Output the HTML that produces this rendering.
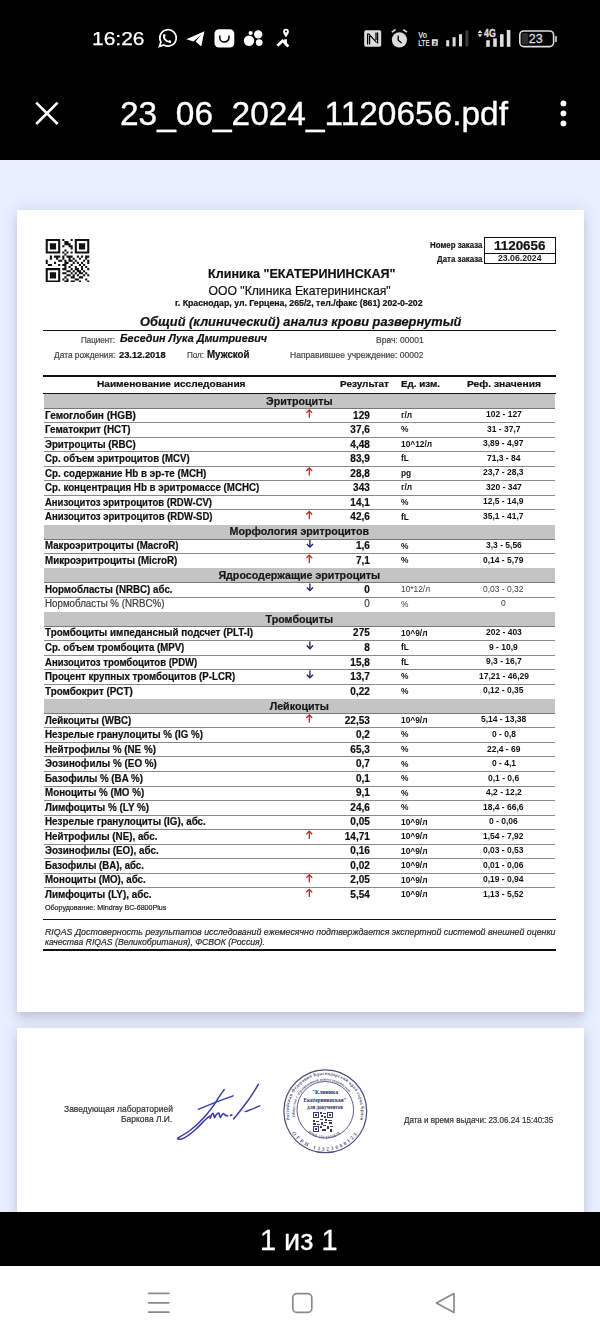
<!DOCTYPE html>
<html><head><meta charset="utf-8">
<style>
html,body{margin:0;padding:0}
body{width:600px;height:1339px;overflow:hidden;position:relative;background:#e8effe;font-family:"Liberation Sans",sans-serif}
.abs{position:absolute}
.t{position:absolute;white-space:pre;line-height:1;transform-origin:0 0;color:#111}
#doc{position:absolute;left:0;top:0;width:600px;height:1339px;will-change:transform}
#doc .t{-webkit-text-stroke:0.2px currentColor}
.topbar{position:absolute;left:0;top:0;width:600px;height:160px;background:#000}
.page{position:absolute;left:16.5px;width:567px;background:#fff;box-shadow:0 0 16px rgba(100,105,130,.17), 0 6px 8px -1px rgba(95,92,105,.22)}
.band{position:absolute;left:44px;width:511px;height:14.2px;background:#c4c4c4;border-bottom:0.9px solid #777}
.rl{position:absolute;left:44px;width:511px;height:1px;background:#8a8a8a}
.hl{position:absolute;left:43px;width:512.5px;height:1.6px;background:#111}
.ar{position:absolute}
.botbar{position:absolute;left:0;top:1212.4px;width:600px;height:54px;background:#000}
.nav{position:absolute;left:0;top:1266.4px;width:600px;height:73px;background:#fff}
</style></head><body>
<div class="topbar"></div>
<div class="page" style="top:210px;height:802px"></div>
<div class="page" style="top:1028px;height:200px"></div>

<!-- header lines -->
<div class="hl" style="top:329.8px"></div>
<div class="hl" style="top:375px"></div>
<div class="hl" style="top:392.6px;height:1.4px"></div>
<div class="hl" style="top:918.7px"></div>
<div class="hl" style="top:949px"></div>
<!-- order box -->
<div class="abs" style="left:483.5px;top:237.3px;width:70.5px;height:25px;border:1.2px solid #111"></div>
<div class="abs" style="left:483.5px;top:252.5px;width:72px;height:1.2px;background:#111"></div>

<!-- QR -->
<svg class="abs" style="left:45.2px;top:238.9px" width="45" height="43.6" viewBox="0 0 21 21">
<g fill="#111">
<path d="M0 0h7v7h-7z M1 1v5h5v-5z M2 2h3v3h-3z"/>
<path d="M14 0h7v7h-7z M15 1v5h5v-5z M16 2h3v3h-3z"/>
<path d="M0 14h7v7h-7z M1 15v5h5v-5z M2 16h3v3h-3z"/>
<path d="M8 0h1v1h-1z M12 0h1v1h-1z M9 1h1v1h-1z M10 1h1v1h-1z M9 2h1v1h-1z M10 2h1v1h-1z M11 2h1v1h-1z M8 3h1v1h-1z M11 3h1v1h-1z M12 3h1v1h-1z M12 4h1v1h-1z M9 5h1v1h-1z M8 6h1v1h-1z M10 6h1v1h-1z M12 6h1v1h-1z M9 7h1v1h-1z M2 8h1v1h-1z M4 8h1v1h-1z M5 8h1v1h-1z M6 8h1v1h-1z M8 8h1v1h-1z M10 8h1v1h-1z M11 8h1v1h-1z M12 8h1v1h-1z M15 8h1v1h-1z M17 8h1v1h-1z M19 8h1v1h-1z M20 8h1v1h-1z M2 9h1v1h-1z M5 9h1v1h-1z M8 9h1v1h-1z M11 9h1v1h-1z M13 9h1v1h-1z M16 9h1v1h-1z M19 9h1v1h-1z M0 10h1v1h-1z M6 10h1v1h-1z M7 10h1v1h-1z M9 10h1v1h-1z M11 10h1v1h-1z M12 10h1v1h-1z M14 10h1v1h-1z M18 10h1v1h-1z M20 10h1v1h-1z M0 11h1v1h-1z M4 11h1v1h-1z M9 11h1v1h-1z M10 11h1v1h-1z M13 11h1v1h-1z M15 11h1v1h-1z M17 11h1v1h-1z M20 11h1v1h-1z M1 12h1v1h-1z M2 12h1v1h-1z M6 12h1v1h-1z M8 12h1v1h-1z M9 12h1v1h-1z M12 12h1v1h-1z M16 12h1v1h-1z M18 12h1v1h-1z M9 13h1v1h-1z M11 13h1v1h-1z M14 13h1v1h-1z M17 13h1v1h-1z M19 13h1v1h-1z M8 14h1v1h-1z M9 14h1v1h-1z M12 14h1v1h-1z M14 14h1v1h-1z M15 14h1v1h-1z M17 14h1v1h-1z M20 14h1v1h-1z M10 15h1v1h-1z M11 15h1v1h-1z M13 15h1v1h-1z M15 15h1v1h-1z M16 15h1v1h-1z M18 15h1v1h-1z M8 16h1v1h-1z M9 16h1v1h-1z M12 16h1v1h-1z M14 16h1v1h-1z M16 16h1v1h-1z M17 16h1v1h-1z M19 16h1v1h-1z M10 17h1v1h-1z M11 17h1v1h-1z M13 17h1v1h-1z M15 17h1v1h-1z M18 17h1v1h-1z M20 17h1v1h-1z M9 18h1v1h-1z M12 18h1v1h-1z M13 18h1v1h-1z M16 18h1v1h-1z M17 18h1v1h-1z M8 19h1v1h-1z M10 19h1v1h-1z M14 19h1v1h-1z M15 19h1v1h-1z M19 19h1v1h-1z M9 20h1v1h-1z M10 20h1v1h-1z M12 20h1v1h-1z M13 20h1v1h-1z M16 20h1v1h-1z M20 20h1v1h-1z"/>
</g></svg>

<div class="band" style="top:393.80px"></div>
<div class="rl" style="top:422.26px"></div>
<div class="rl" style="top:436.79px"></div>
<div class="rl" style="top:451.32px"></div>
<div class="rl" style="top:465.85px"></div>
<div class="rl" style="top:480.38px"></div>
<div class="rl" style="top:494.91px"></div>
<div class="rl" style="top:509.44px"></div>
<div class="band" style="top:524.57px"></div>
<div class="rl" style="top:553.03px"></div>
<div class="band" style="top:568.16px"></div>
<div class="rl" style="top:596.62px"></div>
<div class="band" style="top:611.75px"></div>
<div class="rl" style="top:640.21px"></div>
<div class="rl" style="top:654.74px"></div>
<div class="rl" style="top:669.27px"></div>
<div class="rl" style="top:683.80px"></div>
<div class="band" style="top:698.93px"></div>
<div class="rl" style="top:727.39px"></div>
<div class="rl" style="top:741.92px"></div>
<div class="rl" style="top:756.45px"></div>
<div class="rl" style="top:770.98px"></div>
<div class="rl" style="top:785.51px"></div>
<div class="rl" style="top:800.04px"></div>
<div class="rl" style="top:814.57px"></div>
<div class="rl" style="top:829.10px"></div>
<div class="rl" style="top:843.63px"></div>
<div class="rl" style="top:858.16px"></div>
<div class="rl" style="top:872.69px"></div>
<div class="rl" style="top:887.22px"></div>
<svg class="abs" style="left:0;top:0" width="600" height="1000" viewBox="0 0 600 1000">
<g stroke="#c42222" fill="none"><path d="M309.3 417.63 V410.23" stroke-width="1.25"/><path d="M306.40000000000003 412.83 L309.3 409.83 L312.2 412.83" stroke-width="1.3"/></g>
<g stroke="#c42222" fill="none"><path d="M309.3 475.75 V468.35" stroke-width="1.25"/><path d="M306.40000000000003 470.95 L309.3 467.95 L312.2 470.95" stroke-width="1.3"/></g>
<g stroke="#c42222" fill="none"><path d="M309.3 519.34 V511.94000000000005" stroke-width="1.25"/><path d="M306.40000000000003 514.5400000000001 L309.3 511.54 L312.2 514.5400000000001" stroke-width="1.3"/></g>
<g stroke="#26266e" fill="none"><path d="M309.9 539.8000000000001 V546.6" stroke-width="1.35"/><path d="M306.79999999999995 543.9000000000001 L309.9 547.0 L313.0 543.9000000000001" stroke-width="1.45"/></g>
<g stroke="#c42222" fill="none"><path d="M309.3 562.93 V555.53" stroke-width="1.25"/><path d="M306.40000000000003 558.13 L309.3 555.13 L312.2 558.13" stroke-width="1.3"/></g>
<g stroke="#26266e" fill="none"><path d="M309.9 583.3900000000001 V590.19" stroke-width="1.35"/><path d="M306.79999999999995 587.4900000000001 L309.9 590.59 L313.0 587.4900000000001" stroke-width="1.45"/></g>
<g stroke="#26266e" fill="none"><path d="M309.9 641.51 V648.31" stroke-width="1.35"/><path d="M306.79999999999995 645.61 L309.9 648.7099999999999 L313.0 645.61" stroke-width="1.45"/></g>
<g stroke="#26266e" fill="none"><path d="M309.9 670.57 V677.37" stroke-width="1.35"/><path d="M306.79999999999995 674.6700000000001 L309.9 677.77 L313.0 674.6700000000001" stroke-width="1.45"/></g>
<g stroke="#c42222" fill="none"><path d="M309.3 722.76 V715.36" stroke-width="1.25"/><path d="M306.40000000000003 717.96 L309.3 714.96 L312.2 717.96" stroke-width="1.3"/></g>
<g stroke="#c42222" fill="none"><path d="M309.3 839.0 V831.6" stroke-width="1.25"/><path d="M306.40000000000003 834.2 L309.3 831.2 L312.2 834.2" stroke-width="1.3"/></g>
<g stroke="#c42222" fill="none"><path d="M309.3 882.5899999999999 V875.1899999999999" stroke-width="1.25"/><path d="M306.40000000000003 877.79 L309.3 874.79 L312.2 877.79" stroke-width="1.3"/></g>
<g stroke="#c42222" fill="none"><path d="M309.3 897.1199999999999 V889.7199999999999" stroke-width="1.25"/><path d="M306.40000000000003 892.3199999999999 L309.3 889.3199999999999 L312.2 892.3199999999999" stroke-width="1.3"/></g>
</svg>

<!-- signature -->
<svg class="abs" style="left:170px;top:1075px" width="100" height="70" viewBox="170 1075 100 70">
<g stroke="#3a3aa6" fill="none" stroke-linecap="round" stroke-linejoin="round">
<path stroke-width="1.5" d="M224.2 1089.6 C221 1094 217.5 1099 215 1103.3 C211 1109.5 207 1114 203.3 1118.3 C198 1124 194 1127.5 190 1130.5 C185 1134 180.5 1136.5 178.2 1137.8 C176.8 1138.8 178 1139.6 181.6 1139 C186 1137.5 191 1133.5 195 1130 C199 1126.5 202.5 1122.5 205 1120 C207 1118 208.5 1116.6 210.2 1116"/>
<path stroke-width="1.4" d="M198.3 1109.3 C208 1105.5 220 1100 233.3 1095.8"/>
<path stroke-width="1.6" d="M210.2 1118.3 C211 1116 212 1113.5 213 1113.2 C214 1113.5 213.8 1117 214.6 1117.6 C216 1115 217.5 1112.8 218.6 1113 C219.6 1113.6 219.4 1117 220.4 1117.4 C221.6 1115.5 222.6 1113.4 223.6 1113.6 C224.8 1114.3 225.2 1116.4 227.6 1115.8"/>
<path stroke-width="1.8" d="M230.6 1115.4 L231.8 1115"/>
<path stroke-width="1.5" d="M258.3 1084.4 C254 1092 248 1101 242 1108.5 C238.5 1113 235.5 1116.6 233.6 1119"/>
<path stroke-width="1.4" d="M245.2 1111.6 C250 1110 255 1107.8 259.8 1105.8"/>
</g></svg>

<!-- stamp -->
<svg class="abs" style="left:280px;top:1066px" width="90" height="90" viewBox="-45 -45 90 90">
<defs>
<path id="ring1" d="M -35.2 9 A 36.3 36.3 0 1 1 35.2 9"/>
<path id="ring2" d="M -33 22 A 39.6 39.6 0 0 0 33 22"/>
<path id="ring3" d="M -29.8 6 A 30.4 30.4 0 1 1 29.8 6"/>
<path id="ring4" d="M -17 21.5 A 27.5 27.5 0 0 0 17 21.5"/>
</defs>
<g fill="none" stroke="#4c4c76">
<circle cx="0.3" cy="0.3" r="41.4" stroke-width="1.2"/>
<circle cx="0.3" cy="-1.2" r="28.3" stroke-width="0.9"/>
</g>
<g fill="#54547c" font-family="Liberation Serif" font-weight="700">
<text font-size="4.6" letter-spacing="0.25"><textPath href="#ring1">Российская Федерация Краснодарский край город Краснодар</textPath></text>
<text font-size="5.2" letter-spacing="2.1"><textPath href="#ring2">ОГРН 1232300012345</textPath></text>
<text font-size="3.9" letter-spacing="0.05"><textPath href="#ring3">Общество с ограниченной ответственностью</textPath></text>
<text font-size="3.8" letter-spacing="0.4"><textPath href="#ring4">ИНН 2312345678</textPath></text>
</g>
<g fill="#2e2e58" font-family="Liberation Serif" font-size="6.4" font-weight="700" text-anchor="middle">
<text x="0" y="-17" transform="scale(0.88 1)">"Клиника</text>
<text x="0" y="-9.5" font-size="6.2" transform="scale(0.86 1)">Екатерининская"</text>
<text x="0" y="-1.6" font-size="6" transform="scale(0.84 1)">для документов</text>
</g>
<g fill="#3a3a62" transform="translate(-12 1)">
<path d="M0 0h6v6h-6z M1 1v4h4v-4z M2 2h2v2h-2z"/>
<path d="M14 0h6v6h-6z M15 1v4h4v-4z M16 2h2v2h-2z"/>
<path d="M0 14h6v6h-6z M1 15v4h4v-4z M2 16h2v2h-2z"/>
<path d="M7 0h2v2h-2z M10 1h3v1h-3z M8 3h2v2h-2z M11 4h2v2h-2z M7 7h3v1h-3z M12 7h2v2h-2z M15 8h4v1h-4z M0 8h2v2h-2z M3 9h3v1h-3z M8 10h2v3h-2z M11 10h3v1h-3z M16 10h3v2h-3z M7 14h2v2h-2z M10 13h3v1h-3z M14 14h2v3h-2z M17 14h3v1h-3z M9 17h4v2h-4z M17 17h2v3h-2z M0 11h3v2h-3z M4 12h3v1h-3z"/>
</g>
</svg>

<!-- status bar icons -->
<svg class="abs" style="left:0;top:0" width="600" height="160" viewBox="0 0 600 160">
<!-- whatsapp -->
<g fill="none" stroke="#fff" stroke-width="1.7">
<path d="M159.4 46.4 L160.9 42 A8.2 8.2 0 1 1 163.9 45 Z"/>
</g>
<path fill="none" stroke="#fff" stroke-width="1.9" stroke-linecap="round" d="M163.9 35.4 Q163.4 41.2 170.2 41.9"/>
<circle cx="164.3" cy="35.6" r="1.25" fill="#fff"/><circle cx="169.9" cy="41.6" r="1.25" fill="#fff"/>
<!-- telegram -->
<path fill="#fff" d="M186.4 39.2 L204.4 31.2 L201.2 46.6 L195.6 41.4 L201.4 34.6 L193.4 41.6 Z"/>
<!-- rounded square w/ smile -->
<rect x="214.5" y="29.2" width="19.8" height="18.4" rx="4.6" fill="#fff"/>
<path d="M219.8 35.6 V37.4 A4.6 4.6 0 0 0 229 37.4 V35.6" fill="none" stroke="#000" stroke-width="1.5"/>
<!-- circles -->
<circle cx="249" cy="40.8" r="5.2" fill="#fff"/>
<circle cx="258.2" cy="34.4" r="4.2" fill="#fff"/>
<circle cx="250.6" cy="33" r="2.1" fill="#fff"/>
<circle cx="259.2" cy="42.6" r="3.4" fill="#fff"/>
<!-- pin + zig -->
<path fill="#fff" d="M286 28.8 a2.9 2.9 0 0 1 2.9 2.9 c0 1.8 -2.9 5.6 -2.9 5.6 c0 0 -2.9 -3.8 -2.9 -5.6 a2.9 2.9 0 0 1 2.9 -2.9z"/>
<circle cx="286" cy="31.5" r="1.05" fill="#000"/>
<path fill="none" stroke="#fff" stroke-width="2.7" stroke-linejoin="miter" d="M277.4 45.8 L282.6 40.8 L285.6 43.6 M285.6 39.2 V43.8 L288.4 46.4"/>
<!-- NFC -->
<rect x="364.2" y="30.2" width="17" height="16.6" rx="1.8" fill="#ddd"/>
<path fill="none" stroke="#000" stroke-width="1.25" d="M367.6 33.6 V44.4 M368.4 33.6 L376.6 42.4 M377.6 32.4 V43.4 M369.6 36 L369.6 44.4 M376 32.4 V40"/>
<!-- alarm -->
<circle cx="399.4" cy="39.8" r="7.6" fill="#ddd"/>
<path fill="none" stroke="#000" stroke-width="1.3" d="M398.2 35.6 V40.2 L401.6 43"/>
<path fill="none" stroke="#ddd" stroke-width="1.6" d="M391.8 32.2 L395.6 29.6 M407 32.2 L403.2 29.6"/>
<!-- VoLTE -->
<text x="418.2" y="37.6" font-family="Liberation Sans" font-weight="700" font-size="8.8" fill="#ddd" transform="translate(418.2 0) scale(0.84 1) translate(-418.2 0)">Vo</text>
<text x="418.2" y="45.8" font-family="Liberation Sans" font-weight="700" font-size="9" fill="#ddd" transform="translate(418.2 0) scale(0.7 1) translate(-418.2 0)">LTE</text>
<rect x="431.8" y="39.2" width="6" height="6.6" fill="#ddd"/>
<text x="433.2" y="45" font-family="Liberation Sans" font-weight="700" font-size="6" fill="#000">2</text>
<!-- signal 1 -->
<rect x="446.2" y="40.2" width="3" height="6.2" fill="#ddd"/>
<rect x="452.6" y="37.2" width="3" height="9.2" fill="#ddd"/>
<rect x="459" y="34.2" width="3" height="12.2" fill="#ddd"/>
<rect x="465.4" y="30.4" width="3" height="16" fill="#3a3a3a"/>
<!-- 4G -->
<path fill="#ddd" d="M477.6 33 L480 30 L482.4 33z M477.6 34.2 L480 37.2 L482.4 34.2z"/>
<text x="484" y="37.2" font-family="Liberation Sans" font-weight="700" font-size="10.8" fill="#ddd" stroke="#ddd" stroke-width="0.35" transform="translate(484 0) scale(0.82 1) translate(-484 0)">4G</text>
<rect x="486.2" y="40.2" width="3.6" height="6.6" fill="#ddd"/>
<rect x="493.2" y="38.4" width="3.6" height="8.4" fill="#ddd"/>
<rect x="500" y="34.2" width="3.6" height="12.6" fill="#ddd"/>
<rect x="506.8" y="30" width="3.6" height="16.8" fill="#ddd"/>
<!-- battery -->
<rect x="519.8" y="31" width="33.8" height="15.6" rx="4" fill="none" stroke="#ddd" stroke-width="1.6"/>
<rect x="521.6" y="33" width="6.6" height="11.6" rx="1.5" fill="#2e2e2e"/>
<rect x="555.2" y="36" width="1.6" height="6" rx="0.6" fill="#ddd"/>
<text x="528.8" y="43.4" font-family="Liberation Sans" font-size="12.8" fill="#ddd" stroke="#ddd" stroke-width="0.3" transform="translate(528.8 0) scale(0.98 1) translate(-528.8 0)">23</text>
<!-- close X -->
<path fill="none" stroke="#fff" stroke-width="2.6" d="M36.2 102.6 L57.6 124 M57.6 102.6 L36.2 124"/>
<!-- more dots -->
<circle cx="563.4" cy="103.4" r="2.9" fill="#fff"/>
<circle cx="563.4" cy="113.4" r="2.9" fill="#fff"/>
<circle cx="563.4" cy="123.4" r="2.9" fill="#fff"/>
</svg>

<div class="botbar"></div>
<div class="nav"></div>
<svg class="abs" style="left:0;top:1266px" width="600" height="73" viewBox="0 1266 600 73">
<g fill="none" stroke="#8a8a8a" stroke-width="1.7" stroke-linecap="round" stroke-linejoin="round">
<path d="M148.6 1293.4 H168.8 M148.6 1302.8 H168.8 M148.6 1312.2 H168.8"/>
<rect x="292.8" y="1293.6" width="19" height="18.8" rx="4"/>
<path d="M454 1293.6 V1312.4 L436.4 1303 Z"/>
</g></svg>

<div id="doc"><span class="t" style="left:92.30px;top:29.15px;font-size:19px;color:#fff;transform:scaleX(1.1042);-webkit-text-stroke:0.25px #fff;">16:26</span>
<span class="t" style="left:119.50px;top:97.58px;font-size:32.5px;color:#fff;transform:scaleX(1.0288);-webkit-text-stroke:0.35px #fff;">23_06_2024_1120656.pdf</span>
<span class="t" style="left:260.25px;top:1225.22px;font-size:29.5px;color:#fff;transform:scaleX(0.9783);-webkit-text-stroke:0.3px #fff;">1 из 1</span>
<span class="t" style="left:429.80px;top:241.09px;font-size:8.6px;font-weight:700;color:#1a1a1a;transform:scaleX(0.9180);">Номер заказа</span>
<span class="t" style="left:436.80px;top:254.69px;font-size:8.6px;font-weight:700;color:#1a1a1a;transform:scaleX(0.9221);">Дата заказа</span>
<span class="t" style="left:494.25px;top:239.38px;font-size:13.2px;font-weight:700;transform:scaleX(1.0173);">1120656</span>
<span class="t" style="left:497.75px;top:254.26px;font-size:9.1px;font-weight:700;color:#222;transform:scaleX(0.9557);-webkit-text-stroke:0;">23.06.2024</span>
<span class="t" style="left:208.00px;top:267.35px;font-size:13.0px;font-weight:700;transform:scaleX(0.9672);">Клиника &quot;ЕКАТЕРИНИНСКАЯ&quot;</span>
<span class="t" style="left:208.50px;top:284.63px;font-size:12.2px;">ООО &quot;Клиника Екатерининская&quot;</span>
<span class="t" style="left:175.00px;top:299.49px;font-size:8.6px;font-weight:700;transform:scaleX(1.0181);">г. Краснодар, ул. Герцена, 265/2, тел./факс (861) 202-0-202</span>
<span class="t" style="left:139.60px;top:315.94px;font-size:12.3px;font-weight:700;font-style:italic;transform:scaleX(1.0413);">Общий (клинический) анализ крови развернутый</span>
<span class="t" style="left:81.00px;top:335.69px;font-size:8.6px;color:#444;transform:scaleX(0.9307);">Пациент:</span>
<span class="t" style="left:119.50px;top:334.46px;font-size:10.4px;font-weight:700;font-style:italic;transform:scaleX(1.0358);">Беседин Лука Дмитриевич</span>
<span class="t" style="left:53.60px;top:351.29px;font-size:8.6px;color:#444;transform:scaleX(0.9744);">Дата рождения:</span>
<span class="t" style="left:119.00px;top:350.44px;font-size:9.6px;font-weight:700;transform:scaleX(0.9705);">23.12.2018</span>
<span class="t" style="left:187.00px;top:351.29px;font-size:8.6px;color:#444;transform:scaleX(0.9355);">Пол:</span>
<span class="t" style="left:207.00px;top:349.93px;font-size:10.2px;font-weight:700;transform:scaleX(0.9554);">Мужской</span>
<span class="t" style="left:375.60px;top:336.49px;font-size:8.6px;color:#444;transform:scaleX(0.9883);">Врач: 00001</span>
<span class="t" style="left:290.00px;top:350.89px;font-size:8.6px;color:#444;transform:scaleX(0.9907);">Направившее учреждение: 00002</span>
<span class="t" style="left:96.75px;top:380.30px;font-size:9.3px;font-weight:700;transform:scaleX(1.0847);">Наименование исследования</span>
<span class="t" style="left:339.60px;top:380.30px;font-size:9.3px;font-weight:700;transform:scaleX(1.0729);">Результат</span>
<span class="t" style="left:400.80px;top:380.30px;font-size:9.3px;font-weight:700;transform:scaleX(1.0585);">Ед. изм.</span>
<span class="t" style="left:467.00px;top:380.30px;font-size:9.3px;font-weight:700;transform:scaleX(1.1053);">Реф. значения</span>
<span class="t" style="left:266.05px;top:395.61px;font-size:10.7px;font-weight:700;color:#161616;">Эритроциты</span>
<span class="t" style="left:45.30px;top:410.53px;font-size:10px;font-weight:700;transform:scaleX(1.0056);">Гемоглобин (HGB)</span>
<span class="t" style="left:353.11px;top:410.53px;font-size:10px;font-weight:700;">129</span>
<span class="t" style="left:401.00px;top:410.82px;font-size:9.3px;font-weight:700;transform:scaleX(0.9000);-webkit-text-stroke:0;">г/л</span>
<span class="t" style="left:485.68px;top:410.31px;font-size:9.2px;font-weight:700;transform:scaleX(0.9230);-webkit-text-stroke:0;">102 - 127</span>
<span class="t" style="left:45.30px;top:425.06px;font-size:10px;font-weight:700;transform:scaleX(0.9895);">Гематокрит (HCT)</span>
<span class="t" style="left:350.33px;top:425.06px;font-size:10px;font-weight:700;">37,6</span>
<span class="t" style="left:401.00px;top:425.36px;font-size:9.3px;font-weight:700;transform:scaleX(0.9000);-webkit-text-stroke:0;">%</span>
<span class="t" style="left:486.86px;top:424.84px;font-size:9.2px;font-weight:700;transform:scaleX(0.9230);-webkit-text-stroke:0;">31 - 37,7</span>
<span class="t" style="left:45.30px;top:439.59px;font-size:10px;font-weight:700;transform:scaleX(0.9730);">Эритроциты (RBC)</span>
<span class="t" style="left:350.33px;top:439.59px;font-size:10px;font-weight:700;">4,48</span>
<span class="t" style="left:401.00px;top:439.88px;font-size:9.3px;font-weight:700;transform:scaleX(0.9000);-webkit-text-stroke:0;">10^12/л</span>
<span class="t" style="left:483.32px;top:439.37px;font-size:9.2px;font-weight:700;transform:scaleX(0.9230);-webkit-text-stroke:0;">3,89 - 4,97</span>
<span class="t" style="left:45.30px;top:454.12px;font-size:10px;font-weight:700;transform:scaleX(0.9659);">Ср. объем эритроцитов (MCV)</span>
<span class="t" style="left:350.33px;top:454.12px;font-size:10px;font-weight:700;">83,9</span>
<span class="t" style="left:401.00px;top:454.42px;font-size:9.3px;font-weight:700;transform:scaleX(0.9000);-webkit-text-stroke:0;">fL</span>
<span class="t" style="left:486.86px;top:453.90px;font-size:9.2px;font-weight:700;transform:scaleX(0.9230);-webkit-text-stroke:0;">71,3 - 84</span>
<span class="t" style="left:45.30px;top:468.65px;font-size:10px;font-weight:700;transform:scaleX(0.9823);">Ср. содержание Hb в эр-те (MCH)</span>
<span class="t" style="left:350.33px;top:468.65px;font-size:10px;font-weight:700;">28,8</span>
<span class="t" style="left:401.00px;top:468.94px;font-size:9.3px;font-weight:700;transform:scaleX(0.9000);-webkit-text-stroke:0;">pg</span>
<span class="t" style="left:483.32px;top:468.43px;font-size:9.2px;font-weight:700;transform:scaleX(0.9230);-webkit-text-stroke:0;">23,7 - 28,3</span>
<span class="t" style="left:45.30px;top:483.18px;font-size:10px;font-weight:700;transform:scaleX(0.9749);">Ср. концентрация Hb в эритромассе (MCHC)</span>
<span class="t" style="left:353.11px;top:483.18px;font-size:10px;font-weight:700;">343</span>
<span class="t" style="left:401.00px;top:483.48px;font-size:9.3px;font-weight:700;transform:scaleX(0.9000);-webkit-text-stroke:0;">г/л</span>
<span class="t" style="left:485.68px;top:482.96px;font-size:9.2px;font-weight:700;transform:scaleX(0.9230);-webkit-text-stroke:0;">320 - 347</span>
<span class="t" style="left:45.30px;top:497.71px;font-size:10px;font-weight:700;transform:scaleX(0.9513);">Анизоцитоз эритроцитов (RDW-CV)</span>
<span class="t" style="left:350.33px;top:497.71px;font-size:10px;font-weight:700;">14,1</span>
<span class="t" style="left:401.00px;top:498.00px;font-size:9.3px;font-weight:700;transform:scaleX(0.9000);-webkit-text-stroke:0;">%</span>
<span class="t" style="left:483.32px;top:497.49px;font-size:9.2px;font-weight:700;transform:scaleX(0.9230);-webkit-text-stroke:0;">12,5 - 14,9</span>
<span class="t" style="left:45.30px;top:512.24px;font-size:10px;font-weight:700;transform:scaleX(0.9542);">Анизоцитоз эритроцитов (RDW-SD)</span>
<span class="t" style="left:350.33px;top:512.24px;font-size:10px;font-weight:700;">42,6</span>
<span class="t" style="left:401.00px;top:512.54px;font-size:9.3px;font-weight:700;transform:scaleX(0.9000);-webkit-text-stroke:0;">fL</span>
<span class="t" style="left:483.32px;top:512.02px;font-size:9.2px;font-weight:700;transform:scaleX(0.9230);-webkit-text-stroke:0;">35,1 - 41,7</span>
<span class="t" style="left:229.57px;top:526.38px;font-size:10.7px;font-weight:700;color:#161616;">Морфология эритроцитов</span>
<span class="t" style="left:45.30px;top:541.30px;font-size:10px;font-weight:700;transform:scaleX(0.9687);">Макроэритроциты (MacroR)</span>
<span class="t" style="left:355.89px;top:541.30px;font-size:10px;font-weight:700;">1,6</span>
<span class="t" style="left:401.00px;top:541.60px;font-size:9.3px;font-weight:700;transform:scaleX(0.9000);-webkit-text-stroke:0;">%</span>
<span class="t" style="left:485.68px;top:541.08px;font-size:9.2px;font-weight:700;transform:scaleX(0.9230);-webkit-text-stroke:0;">3,3 - 5,56</span>
<span class="t" style="left:45.30px;top:555.83px;font-size:10px;font-weight:700;transform:scaleX(0.9762);">Микроэритроциты (MicroR)</span>
<span class="t" style="left:355.89px;top:555.83px;font-size:10px;font-weight:700;">7,1</span>
<span class="t" style="left:401.00px;top:556.13px;font-size:9.3px;font-weight:700;transform:scaleX(0.9000);-webkit-text-stroke:0;">%</span>
<span class="t" style="left:483.32px;top:555.61px;font-size:9.2px;font-weight:700;transform:scaleX(0.9230);-webkit-text-stroke:0;">0,14 - 5,79</span>
<span class="t" style="left:218.41px;top:569.97px;font-size:10.7px;font-weight:700;color:#161616;">Ядросодержащие эритроциты</span>
<span class="t" style="left:45.30px;top:584.89px;font-size:10px;font-weight:700;transform:scaleX(0.9768);">Нормобласты (NRBC) абс.</span>
<span class="t" style="left:364.24px;top:584.89px;font-size:10px;font-weight:700;">0</span>
<span class="t" style="left:401.00px;top:585.19px;font-size:9.3px;color:#3c3c3c;transform:scaleX(0.9000);-webkit-text-stroke:0;">10*12/л</span>
<span class="t" style="left:483.32px;top:584.67px;font-size:9.2px;color:#3c3c3c;transform:scaleX(0.9230);-webkit-text-stroke:0;">0,03 - 0,32</span>
<span class="t" style="left:45.30px;top:599.42px;font-size:10px;color:#3c3c3c;transform:scaleX(0.9753);">Нормобласты % (NRBC%)</span>
<span class="t" style="left:364.24px;top:599.42px;font-size:10px;color:#3c3c3c;">0</span>
<span class="t" style="left:401.00px;top:599.72px;font-size:9.3px;color:#3c3c3c;transform:scaleX(0.9000);-webkit-text-stroke:0;">%</span>
<span class="t" style="left:501.23px;top:599.20px;font-size:9.2px;color:#3c3c3c;transform:scaleX(0.9230);-webkit-text-stroke:0;">0</span>
<span class="t" style="left:265.58px;top:613.56px;font-size:10.7px;font-weight:700;color:#161616;">Тромбоциты</span>
<span class="t" style="left:45.30px;top:628.48px;font-size:10px;font-weight:700;transform:scaleX(0.9872);">Тромбоциты импедансный подсчет (PLT-I)</span>
<span class="t" style="left:353.11px;top:628.48px;font-size:10px;font-weight:700;">275</span>
<span class="t" style="left:401.00px;top:628.78px;font-size:9.3px;font-weight:700;transform:scaleX(0.9000);-webkit-text-stroke:0;">10^9/л</span>
<span class="t" style="left:485.68px;top:628.26px;font-size:9.2px;font-weight:700;transform:scaleX(0.9230);-webkit-text-stroke:0;">202 - 403</span>
<span class="t" style="left:45.30px;top:643.01px;font-size:10px;font-weight:700;transform:scaleX(0.9652);">Ср. объем тромбоцита (MPV)</span>
<span class="t" style="left:364.24px;top:643.01px;font-size:10px;font-weight:700;">8</span>
<span class="t" style="left:401.00px;top:643.31px;font-size:9.3px;font-weight:700;transform:scaleX(0.9000);-webkit-text-stroke:0;">fL</span>
<span class="t" style="left:489.22px;top:642.79px;font-size:9.2px;font-weight:700;transform:scaleX(0.9230);-webkit-text-stroke:0;">9 - 10,9</span>
<span class="t" style="left:45.30px;top:657.54px;font-size:10px;font-weight:700;transform:scaleX(0.9539);">Анизоцитоз тромбоцитов (PDW)</span>
<span class="t" style="left:350.33px;top:657.54px;font-size:10px;font-weight:700;">15,8</span>
<span class="t" style="left:401.00px;top:657.84px;font-size:9.3px;font-weight:700;transform:scaleX(0.9000);-webkit-text-stroke:0;">fL</span>
<span class="t" style="left:485.68px;top:657.32px;font-size:9.2px;font-weight:700;transform:scaleX(0.9230);-webkit-text-stroke:0;">9,3 - 16,7</span>
<span class="t" style="left:45.30px;top:672.07px;font-size:10px;font-weight:700;transform:scaleX(0.9693);">Процент крупных тромбоцитов (P-LCR)</span>
<span class="t" style="left:350.33px;top:672.07px;font-size:10px;font-weight:700;">13,7</span>
<span class="t" style="left:401.00px;top:672.37px;font-size:9.3px;font-weight:700;transform:scaleX(0.9000);-webkit-text-stroke:0;">%</span>
<span class="t" style="left:478.61px;top:671.85px;font-size:9.2px;font-weight:700;transform:scaleX(0.9230);-webkit-text-stroke:0;">17,21 - 46,29</span>
<span class="t" style="left:45.30px;top:686.60px;font-size:10px;font-weight:700;transform:scaleX(0.9864);">Тромбокрит (PCT)</span>
<span class="t" style="left:350.33px;top:686.60px;font-size:10px;font-weight:700;">0,22</span>
<span class="t" style="left:401.00px;top:686.90px;font-size:9.3px;font-weight:700;transform:scaleX(0.9000);-webkit-text-stroke:0;">%</span>
<span class="t" style="left:483.32px;top:686.38px;font-size:9.2px;font-weight:700;transform:scaleX(0.9230);-webkit-text-stroke:0;">0,12 - 0,35</span>
<span class="t" style="left:269.67px;top:700.74px;font-size:10.7px;font-weight:700;color:#161616;">Лейкоциты</span>
<span class="t" style="left:45.30px;top:715.66px;font-size:10px;font-weight:700;transform:scaleX(0.9718);">Лейкоциты (WBC)</span>
<span class="t" style="left:344.77px;top:715.66px;font-size:10px;font-weight:700;">22,53</span>
<span class="t" style="left:401.00px;top:715.96px;font-size:9.3px;font-weight:700;transform:scaleX(0.9000);-webkit-text-stroke:0;">10^9/л</span>
<span class="t" style="left:480.96px;top:715.44px;font-size:9.2px;font-weight:700;transform:scaleX(0.9230);-webkit-text-stroke:0;">5,14 - 13,38</span>
<span class="t" style="left:45.30px;top:730.19px;font-size:10px;font-weight:700;transform:scaleX(0.9794);">Незрелые гранулоциты % (IG %)</span>
<span class="t" style="left:355.89px;top:730.19px;font-size:10px;font-weight:700;">0,2</span>
<span class="t" style="left:401.00px;top:730.49px;font-size:9.3px;font-weight:700;transform:scaleX(0.9000);-webkit-text-stroke:0;">%</span>
<span class="t" style="left:491.58px;top:729.97px;font-size:9.2px;font-weight:700;transform:scaleX(0.9230);-webkit-text-stroke:0;">0 - 0,8</span>
<span class="t" style="left:45.30px;top:744.72px;font-size:10px;font-weight:700;transform:scaleX(0.9865);">Нейтрофилы % (NE %)</span>
<span class="t" style="left:350.33px;top:744.72px;font-size:10px;font-weight:700;">65,3</span>
<span class="t" style="left:401.00px;top:745.02px;font-size:9.3px;font-weight:700;transform:scaleX(0.9000);-webkit-text-stroke:0;">%</span>
<span class="t" style="left:486.86px;top:744.50px;font-size:9.2px;font-weight:700;transform:scaleX(0.9230);-webkit-text-stroke:0;">22,4 - 69</span>
<span class="t" style="left:45.30px;top:759.25px;font-size:10px;font-weight:700;transform:scaleX(0.9867);">Эозинофилы % (EO %)</span>
<span class="t" style="left:355.89px;top:759.25px;font-size:10px;font-weight:700;">0,7</span>
<span class="t" style="left:401.00px;top:759.55px;font-size:9.3px;font-weight:700;transform:scaleX(0.9000);-webkit-text-stroke:0;">%</span>
<span class="t" style="left:491.58px;top:759.03px;font-size:9.2px;font-weight:700;transform:scaleX(0.9230);-webkit-text-stroke:0;">0 - 4,1</span>
<span class="t" style="left:45.30px;top:773.78px;font-size:10px;font-weight:700;transform:scaleX(0.9769);">Базофилы % (BA %)</span>
<span class="t" style="left:355.89px;top:773.78px;font-size:10px;font-weight:700;">0,1</span>
<span class="t" style="left:401.00px;top:774.08px;font-size:9.3px;font-weight:700;transform:scaleX(0.9000);-webkit-text-stroke:0;">%</span>
<span class="t" style="left:488.04px;top:773.56px;font-size:9.2px;font-weight:700;transform:scaleX(0.9230);-webkit-text-stroke:0;">0,1 - 0,6</span>
<span class="t" style="left:45.30px;top:788.31px;font-size:10px;font-weight:700;transform:scaleX(0.9801);">Моноциты % (MO %)</span>
<span class="t" style="left:355.89px;top:788.31px;font-size:10px;font-weight:700;">9,1</span>
<span class="t" style="left:401.00px;top:788.61px;font-size:9.3px;font-weight:700;transform:scaleX(0.9000);-webkit-text-stroke:0;">%</span>
<span class="t" style="left:485.68px;top:788.09px;font-size:9.2px;font-weight:700;transform:scaleX(0.9230);-webkit-text-stroke:0;">4,2 - 12,2</span>
<span class="t" style="left:45.30px;top:802.84px;font-size:10px;font-weight:700;transform:scaleX(0.9885);">Лимфоциты % (LY %)</span>
<span class="t" style="left:350.33px;top:802.84px;font-size:10px;font-weight:700;">24,6</span>
<span class="t" style="left:401.00px;top:803.14px;font-size:9.3px;font-weight:700;transform:scaleX(0.9000);-webkit-text-stroke:0;">%</span>
<span class="t" style="left:483.32px;top:802.62px;font-size:9.2px;font-weight:700;transform:scaleX(0.9230);-webkit-text-stroke:0;">18,4 - 66,6</span>
<span class="t" style="left:45.30px;top:817.37px;font-size:10px;font-weight:700;transform:scaleX(0.9834);">Незрелые гранулоциты (IG), абс.</span>
<span class="t" style="left:350.33px;top:817.37px;font-size:10px;font-weight:700;">0,05</span>
<span class="t" style="left:401.00px;top:817.67px;font-size:9.3px;font-weight:700;transform:scaleX(0.9000);-webkit-text-stroke:0;">10^9/л</span>
<span class="t" style="left:489.22px;top:817.15px;font-size:9.2px;font-weight:700;transform:scaleX(0.9230);-webkit-text-stroke:0;">0 - 0,06</span>
<span class="t" style="left:45.30px;top:831.90px;font-size:10px;font-weight:700;transform:scaleX(0.9806);">Нейтрофилы (NE), абс.</span>
<span class="t" style="left:344.77px;top:831.90px;font-size:10px;font-weight:700;">14,71</span>
<span class="t" style="left:401.00px;top:832.20px;font-size:9.3px;font-weight:700;transform:scaleX(0.9000);-webkit-text-stroke:0;">10^9/л</span>
<span class="t" style="left:483.32px;top:831.68px;font-size:9.2px;font-weight:700;transform:scaleX(0.9230);-webkit-text-stroke:0;">1,54 - 7,92</span>
<span class="t" style="left:45.30px;top:846.43px;font-size:10px;font-weight:700;transform:scaleX(0.9834);">Эозинофилы (EO), абс.</span>
<span class="t" style="left:350.33px;top:846.43px;font-size:10px;font-weight:700;">0,16</span>
<span class="t" style="left:401.00px;top:846.73px;font-size:9.3px;font-weight:700;transform:scaleX(0.9000);-webkit-text-stroke:0;">10^9/л</span>
<span class="t" style="left:483.32px;top:846.21px;font-size:9.2px;font-weight:700;transform:scaleX(0.9230);-webkit-text-stroke:0;">0,03 - 0,53</span>
<span class="t" style="left:45.30px;top:860.96px;font-size:10px;font-weight:700;transform:scaleX(0.9610);">Базофилы (BA), абс.</span>
<span class="t" style="left:350.33px;top:860.96px;font-size:10px;font-weight:700;">0,02</span>
<span class="t" style="left:401.00px;top:861.26px;font-size:9.3px;font-weight:700;transform:scaleX(0.9000);-webkit-text-stroke:0;">10^9/л</span>
<span class="t" style="left:483.32px;top:860.74px;font-size:9.2px;font-weight:700;transform:scaleX(0.9230);-webkit-text-stroke:0;">0,01 - 0,06</span>
<span class="t" style="left:45.30px;top:875.49px;font-size:10px;font-weight:700;transform:scaleX(0.9737);">Моноциты (MO), абс.</span>
<span class="t" style="left:350.33px;top:875.49px;font-size:10px;font-weight:700;">2,05</span>
<span class="t" style="left:401.00px;top:875.79px;font-size:9.3px;font-weight:700;transform:scaleX(0.9000);-webkit-text-stroke:0;">10^9/л</span>
<span class="t" style="left:483.32px;top:875.27px;font-size:9.2px;font-weight:700;transform:scaleX(0.9230);-webkit-text-stroke:0;">0,19 - 0,94</span>
<span class="t" style="left:45.30px;top:890.02px;font-size:10px;font-weight:700;transform:scaleX(0.9878);">Лимфоциты (LY), абс.</span>
<span class="t" style="left:350.33px;top:890.02px;font-size:10px;font-weight:700;">5,54</span>
<span class="t" style="left:401.00px;top:890.32px;font-size:9.3px;font-weight:700;transform:scaleX(0.9000);-webkit-text-stroke:0;">10^9/л</span>
<span class="t" style="left:483.32px;top:889.80px;font-size:9.2px;font-weight:700;transform:scaleX(0.9230);-webkit-text-stroke:0;">1,13 - 5,52</span>
<span class="t" style="left:44.70px;top:904.19px;font-size:7.3px;color:#222;transform:scaleX(0.9731);">Оборудование: Mindray BC-6800Plus</span>
<span class="t" style="left:45.10px;top:928.19px;font-size:8.6px;font-style:italic;color:#2a2a2a;transform:scaleX(1.0261);">RIQAS Достоверность результатов исследований ежемесячно подтверждается экспертной системой внешней оценки</span>
<span class="t" style="left:45.10px;top:937.59px;font-size:8.6px;font-style:italic;color:#2a2a2a;transform:scaleX(1.0084);">качества RIQAS (Великобритания), ФСВОК (Россия).</span>
<span class="t" style="left:64.10px;top:1105.49px;font-size:8.6px;color:#333;transform:scaleX(0.9880);">Заведующая лабораторией</span>
<span class="t" style="left:121.20px;top:1115.39px;font-size:8.6px;color:#333;transform:scaleX(0.9854);">Баркова Л.И.</span>
<span class="t" style="left:404.40px;top:1116.09px;font-size:8.6px;color:#333;transform:scaleX(0.9368);">Дата и время выдачи: 23.06.24 15:40:35</span></div>
</body></html>
